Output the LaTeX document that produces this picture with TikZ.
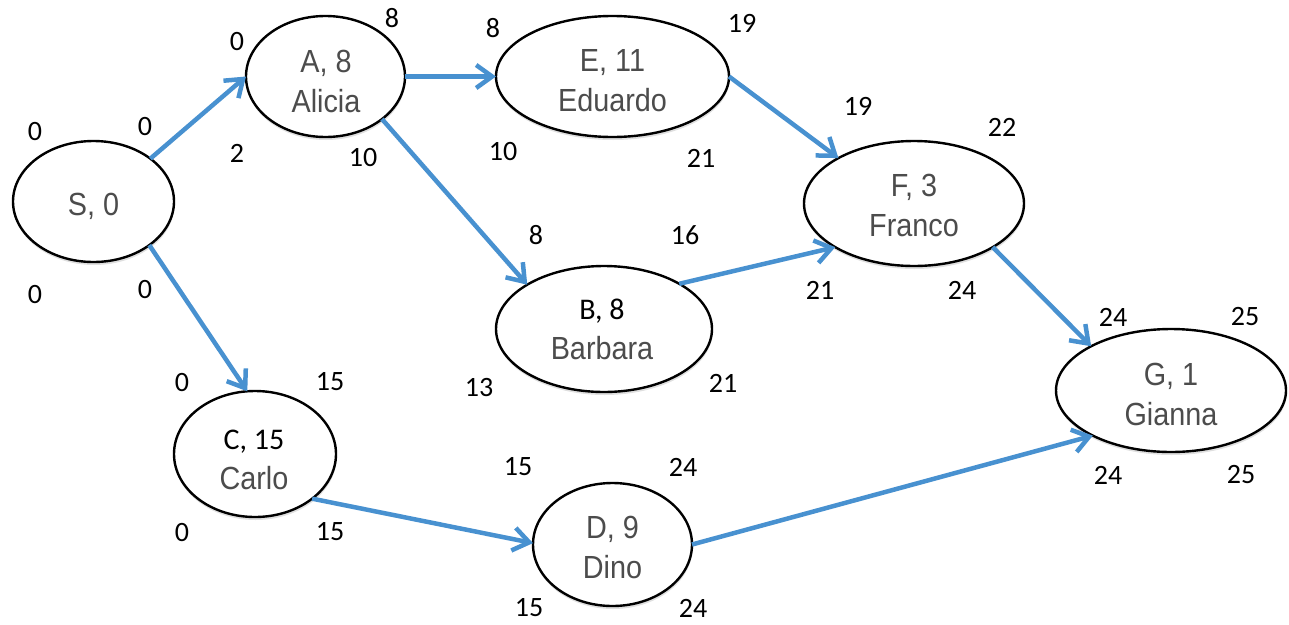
\documentclass[tikz,border=0pt]{standalone}
\usepackage{fontspec}
\setmainfont{Carlito}
\newfontfamily\taskfont[FakeStretch=0.9]{Liberation Sans}
\usetikzlibrary{arrows.meta,shapes.geometric,shadows}
\definecolor{flowblue}{RGB}{72,145,208}
\definecolor{taskgray}{RGB}{76,76,76}
\begin{document}
\begin{tikzpicture}[x=1pt,y=-1pt,
  task/.style={ellipse, draw=black, line width=2.4pt, fill=white,
    inner sep=0pt, outer sep=0pt,
    drop shadow={shadow xshift=0.5pt, shadow yshift=-3pt, opacity=0.25}},
  tasktext/.style={align=center, text=taskgray, inner sep=0pt,
    font=\taskfont\fontsize{32}{40}\selectfont},
  dur/.style={font=\rmfamily\fontsize{30}{40}\selectfont, text=black},
  flow/.style={draw=flowblue, line width=4.5pt,
    -{Straight Barb[length=16pt,width=23pt]}},
  num/.style={font=\fontsize{28}{34}\selectfont, text=black, inner sep=0pt}
]
\useasboundingbox (0,0) rectangle (1289,624);

% activities
\node[task, minimum width=161pt, minimum height=121pt] (S) at (93.5,201.5) {};
\node[task, minimum width=159pt, minimum height=121pt] (A) at (325.5,76.5) {};
\node[task, minimum width=233pt, minimum height=121pt] (E) at (612.5,76.5) {};
\node[task, minimum width=220pt, minimum height=125pt] (F) at (914,203.5) {};
\node[task, minimum width=216pt, minimum height=126pt] (B) at (604,329) {};
\node[task, minimum width=162pt, minimum height=126pt] (C) at (255,454) {};
\node[task, minimum width=159pt, minimum height=123pt] (D) at (612.5,544.5) {};
\node[task, minimum width=230pt, minimum height=123pt] (G) at (1171,390.5) {};

% activity names and durations
\node[tasktext] (St) at (93.5,206) {S, 0};
\node[tasktext] (At) at (326,81.5) {A, 8\\Alicia};
\node[tasktext] (Et) at (612.5,81) {E, 11\\Eduardo};
\node[tasktext] (Ft) at (914,205.5) {F, 3\\Franco};
\node[tasktext] (Bt) at (602,329.5) {{\rmfamily\fontsize{30}{40}\selectfont\color{black}B, 8}\\Barbara};
\node[tasktext] (Ct) at (254,459.5) {{\rmfamily\fontsize{30}{40}\selectfont\color{black}C, 15}\\Carlo};
\node[tasktext] (Dt) at (612.5,547) {D, 9\\Dino};
\node[tasktext] (Gt) at (1171,394.5) {G, 1\\Gianna};

% precedence arrows
\draw[flow] (S.37) -- (A.180);
\draw[flow] (S.-38) -- (C.97);
\draw[flow] (A.0) -- (E.180);
\draw[flow] (A.-37) -- (B.150);
\draw[flow] (E.0) -- (F.149);
\draw[flow] (B.31) -- (F.209);
\draw[flow] (F.-29) -- (G.151);
\draw[flow] (C.-38) -- (D.179);
\draw[flow] (D.0) -- (G.210);

% early/late start and finish times
\node[num] (Ses) at (35,132) {0};
\node[num] (Sef) at (145,127) {0};
\node[num] (Sls) at (35,295) {0};
\node[num] (Slf) at (145,290) {0};

\node[num] (Aes) at (237,42) {0};
\node[num] (Aef) at (392,18) {8};
\node[num] (Als) at (237,153) {2};
\node[num] (Alf) at (363,158) {10};

\node[num] (Ees) at (493,28) {8};
\node[num] (Eef) at (742,23) {19};
\node[num] (Els) at (503,152) {10};
\node[num] (Elf) at (701,158) {21};

\node[num] (Fes) at (858,106) {19};
\node[num] (Fef) at (1002,127) {22};
\node[num] (Fls) at (820,290) {21};
\node[num] (Flf) at (962,290) {24};

\node[num] (Bes) at (536,235) {8};
\node[num] (Bef) at (685,235) {16};
\node[num] (Bls) at (479,388) {13};
\node[num] (Blf) at (723,383) {21};

\node[num] (Ces) at (182,383) {0};
\node[num] (Cef) at (330,382) {15};
\node[num] (Cls) at (182,533) {0};
\node[num] (Clf) at (330,532) {15};

\node[num] (Des) at (518,467) {15};
\node[num] (Def) at (683,467) {24};
\node[num] (Dls) at (529,608) {15};
\node[num] (Dlf) at (693,608) {24};

\node[num] (Ges) at (1113,317) {24};
\node[num] (Gef) at (1245,317) {25};
\node[num] (Gls) at (1108,475) {24};
\node[num] (Glf) at (1241,475) {25};
\end{tikzpicture}
\end{document}
